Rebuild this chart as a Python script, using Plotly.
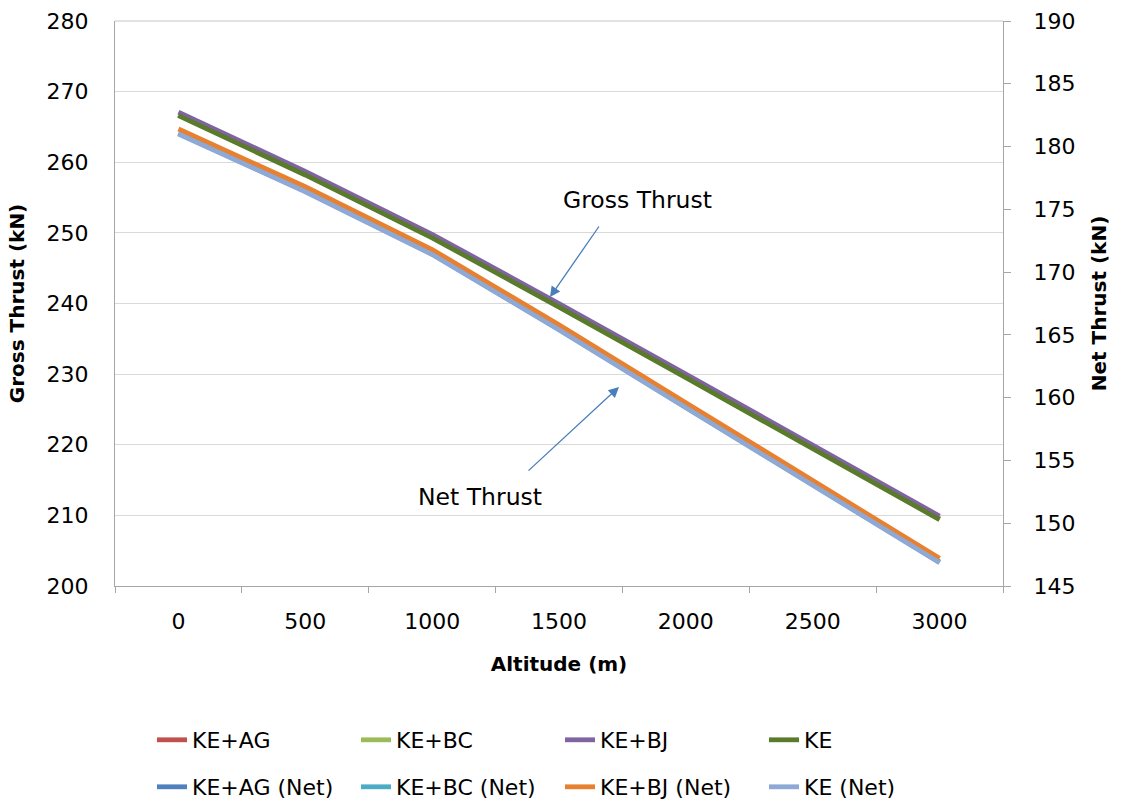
import plotly.graph_objects as go

altitude = ["0", "500", "1000", "1500", "2000", "2500", "3000"]

gross_ke_ag = [266.7, 258.3, 249.4, 239.6, 229.6, 219.6, 209.5]
gross_ke_bc = [266.7, 258.3, 249.4, 239.6, 229.6, 219.6, 209.5]
gross_ke_bj = [267.1, 258.7, 249.8, 240.0, 230.0, 220.0, 209.9]
gross_ke = [266.6, 258.2, 249.3, 239.5, 229.5, 219.5, 209.4]

net_ke_ag = [181.05, 176.45, 171.45, 165.45, 159.25, 153.05, 146.9]
net_ke_bc = [181.05, 176.45, 171.45, 165.45, 159.25, 153.05, 146.9]
net_ke_bj = [181.4, 176.8, 171.8, 165.8, 159.6, 153.4, 147.2]
net_ke = [181.0, 176.4, 171.4, 165.4, 159.2, 153.0, 146.85]

names_gross = ["KE+AG", "KE+BC", "KE+BJ", "KE"]
names_net = ["KE+AG (Net)", "KE+BC (Net)", "KE+BJ (Net)", "KE (Net)"]
colors_gross = ["#C0504D", "#9BBB59", "#8064A2", "#5A7A2C"]
colors_net = ["#4F81BD", "#4BACC6", "#E8812F", "#8EA9D5"]

FONT = "DejaVu Sans"
LW = 4.8

fig = go.Figure()
for name, vals, col in zip(names_gross, [gross_ke_ag, gross_ke_bc, gross_ke_bj, gross_ke], colors_gross):
    fig.add_trace(go.Scatter(x=altitude, y=vals, name=name, mode="lines",
                             line=dict(color=col, width=LW), yaxis="y", legend="legend"))
for name, vals, col in zip(names_net, [net_ke_ag, net_ke_bc, net_ke_bj, net_ke], colors_net):
    fig.add_trace(go.Scatter(x=altitude, y=vals, name=name, mode="lines",
                             line=dict(color=col, width=LW), yaxis="y2", legend="legend2"))

W, H = 1121, 807
L, R, T, B = 115, 1003, 21, 586
pw, ph = R - L, B - T

def px(x):
    return (x - L) / pw

def py(y):
    return (B - y) / ph

axis_gray = "#A6A6A6"
grid_gray = "#D9D9D9"

fig.update_layout(
    width=W, height=H,
    margin=dict(l=L, r=W - R, t=T, b=H - B, pad=0, autoexpand=False),
    paper_bgcolor="white", plot_bgcolor="white",
    font=dict(family=FONT, size=20, color="#000000"),
    xaxis=dict(type="category", categoryorder="array", categoryarray=altitude,
               range=[-0.5, len(altitude) - 0.5], automargin=False,
               showline=True, linecolor=axis_gray, linewidth=1.3,
               showgrid=False, ticks="outside", tickson="boundaries",
               ticklen=6, tickcolor=axis_gray, ticklabelstandoff=15,
               tickfont=dict(size=22),
               title=dict(text="<b>Altitude (m)</b>", font=dict(size=20), standoff=24)),
    yaxis=dict(range=[200, 280], dtick=10, showline=True, linecolor=axis_gray, linewidth=1.3,
               showgrid=True, gridcolor=grid_gray, gridwidth=1.3, zeroline=False,
               automargin=False,
               ticks="", ticklabelstandoff=21, tickfont=dict(size=22),
               title=dict(text="<b>Gross Thrust (kN)</b>", font=dict(size=20), standoff=16)),
    yaxis2=dict(range=[145, 190], dtick=5, overlaying="y", side="right",
                showline=True, linecolor=axis_gray, linewidth=1.3, showgrid=False,
                zeroline=False, ticks="outside", ticklen=7, tickcolor=axis_gray,
                automargin=False,
                ticklabelstandoff=18, tickfont=dict(size=22),
                title=dict(text="<b>Net Thrust (kN)</b>", font=dict(size=20), standoff=17)),
    legend=dict(orientation="h", x=px(152), xanchor="left", y=py(740), yanchor="middle",
                font=dict(size=22), entrywidth=159, entrywidthmode="pixels",
                bgcolor="rgba(0,0,0,0)", traceorder="normal"),
    legend2=dict(orientation="h", x=px(152), xanchor="left", y=py(787), yanchor="middle",
                 font=dict(size=22), entrywidth=159, entrywidthmode="pixels",
                 bgcolor="rgba(0,0,0,0)", traceorder="normal"),
    showlegend=True,
)

# top border line of plot area
fig.add_shape(type="line", xref="paper", yref="paper", x0=0, x1=1, y0=1, y1=1,
              line=dict(color=grid_gray, width=1.3))

arrow_col = "#4A7EBB"
fig.add_annotation(xref="paper", yref="paper", x=px(637), y=py(200), text="Gross Thrust",
                   showarrow=False, font=dict(size=23.5), xanchor="center", yanchor="middle")
fig.add_annotation(xref="paper", yref="paper", x=px(480), y=py(497), text="Net Thrust",
                   showarrow=False, font=dict(size=23.5), xanchor="center", yanchor="middle")
fig.add_annotation(xref="paper", yref="paper", x=px(550), y=py(297), text="",
                   showarrow=True, ax=50, ay=-72, arrowcolor=arrow_col, arrowwidth=1.3,
                   arrowhead=2, arrowsize=1.6)
fig.add_annotation(xref="paper", yref="paper", x=px(619), y=py(387), text="",
                   showarrow=True, ax=-92, ay=85, arrowcolor=arrow_col, arrowwidth=1.3,
                   arrowhead=2, arrowsize=1.6)

fig.write_html("out.html")
